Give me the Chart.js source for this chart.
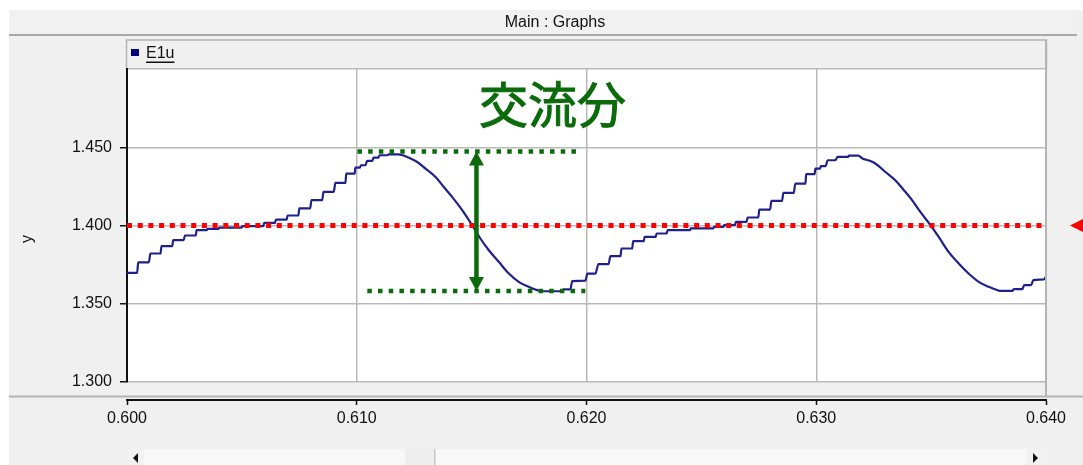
<!DOCTYPE html>
<html>
<head>
<meta charset="utf-8">
<title>Main : Graphs</title>
<script src="https://cdn.jsdelivr.net/npm/chart.js@4.4.1/dist/chart.umd.min.js"></script>
<style>
  html, body { margin: 0; padding: 0; background: #ffffff; overflow: hidden; }
  canvas { display: block; }
</style>
</head>
<body>
<canvas id="graph" width="1083" height="465"></canvas>
<script>
// Time axis [s] of the recorded E1u channel
const timeValues = [
  0.60000, 0.60044, 0.60049, 0.60095, 0.60102, 0.60146, 0.60150, 0.60197,
  0.60201, 0.60247, 0.60252, 0.60299, 0.60303, 0.60347, 0.60351, 0.60398,
  0.60402, 0.60499, 0.60503, 0.60593, 0.60597, 0.60644, 0.60648, 0.60695,
  0.60699, 0.60746, 0.60750, 0.60797, 0.60803, 0.60850, 0.60855, 0.60900,
  0.60907, 0.60951, 0.60954, 0.60991, 0.60994, 0.61014, 0.61018, 0.61038,
  0.61045, 0.61068, 0.61073, 0.61094, 0.61100, 0.61134, 0.61138, 0.61180,
  0.61200, 0.61225, 0.61263, 0.61299, 0.61343, 0.61379, 0.61415, 0.61459,
  0.61502, 0.61538, 0.61575, 0.61618, 0.61662, 0.61705, 0.61749, 0.61785,
  0.61810, 0.61895, 0.61899, 0.61930, 0.61938, 0.61995, 0.62004, 0.62039,
  0.62052, 0.62096, 0.62104, 0.62148, 0.62152, 0.62199, 0.62203, 0.62249,
  0.62253, 0.62301, 0.62305, 0.62349, 0.62353, 0.62450, 0.62454, 0.62552,
  0.62556, 0.62595, 0.62599, 0.62646, 0.62650, 0.62697, 0.62701, 0.62748,
  0.62752, 0.62799, 0.62805, 0.62851, 0.62857, 0.62902, 0.62909, 0.62953,
  0.62956, 0.62993, 0.62996, 0.63016, 0.63020, 0.63040, 0.63050, 0.63083,
  0.63093, 0.63138, 0.63142, 0.63183,
  0.63201, 0.63230, 0.63257, 0.63301, 0.63344, 0.63379, 0.63417, 0.63453,
  0.63497, 0.63533, 0.63576, 0.63620, 0.63663, 0.63707, 0.63751, 0.63790,
  0.63801, 0.63854, 0.63860, 0.63897, 0.63905, 0.63935, 0.63945, 0.63990,
  0.64000
];

// E1u voltage samples, same length as timeValues
const e1uValues = [
  1.3697, 1.3697, 1.3764, 1.3764, 1.3821, 1.3821, 1.3868, 1.3868,
  1.3906, 1.3906, 1.3936, 1.3936, 1.3970, 1.3970, 1.3978, 1.3978,
  1.3987, 1.3987, 1.3996, 1.3996, 1.4017, 1.4017, 1.4038, 1.4038,
  1.4064, 1.4064, 1.4109, 1.4109, 1.4162, 1.4162, 1.4215, 1.4215,
  1.4272, 1.4272, 1.4332, 1.4332, 1.4370, 1.4370, 1.4385, 1.4385,
  1.4413, 1.4413, 1.4434, 1.4434, 1.4449, 1.4449, 1.4455, 1.4455,
  1.4449, 1.4434, 1.4406, 1.4364, 1.4310, 1.4246, 1.4183, 1.4098,
  1.4002, 1.3917, 1.3842, 1.3768, 1.3693, 1.3640, 1.3608, 1.3587,
  1.3580, 1.3580, 1.3592, 1.3592, 1.3645, 1.3647, 1.3693, 1.3693,
  1.3753, 1.3753, 1.3804, 1.3804, 1.3853, 1.3853, 1.3900, 1.3900,
  1.3927, 1.3927, 1.3949, 1.3949, 1.3970, 1.3970, 1.3981, 1.3981,
  1.3991, 1.3991, 1.4002, 1.4002, 1.4023, 1.4023, 1.4051, 1.4051,
  1.4102, 1.4102, 1.4157, 1.4157, 1.4208, 1.4208, 1.4268, 1.4268,
  1.4328, 1.4328, 1.4363, 1.4363, 1.4379, 1.4379, 1.4417, 1.4417,
  1.4438, 1.4438, 1.4447, 1.4447,
  1.4428, 1.4415, 1.4396, 1.4342, 1.4289, 1.4230, 1.4162, 1.4087,
  1.4002, 1.3927, 1.3831, 1.3757, 1.3693, 1.3640, 1.3608, 1.3586,
  1.3582, 1.3582, 1.3594, 1.3594, 1.3619, 1.3619, 1.3651, 1.3655,
  1.3672
];

// Axis ticks
const xTickValues = [0.600, 0.610, 0.620, 0.630, 0.640];
const yTickValues = [1.300, 1.350, 1.400, 1.450];
const xRange = [0.600, 0.640];
const yRange = [1.300, 1.500];

// Guide lines: DC level and the peak-to-peak band of the AC part
const dcLevel = 1.400;
const acTop = 1.4473;
const acBottom = 1.3582;
const acTopSpan = [0.61003, 0.61955];
const acBottomSpan = [0.61046, 0.61995];
const acArrowX = 0.61521;
const acLabel = '交流分';
const acLabelAt = [0.61852, 1.4775];

const seriesName = 'E1u';
const windowTitle = 'Main : Graphs';
const yAxisTitle = 'y';

const FONT = '"Liberation Sans", Arial, sans-serif';
const GREEN = '#0b6b0b';
const GRID = '#b9b9b9';
const PANEL = '#f0f0f0';

const curvePoints = timeValues.map((t, i) => ({ x: t, y: e1uValues[i] }));

// Window chrome, legend, annotations
const chrome = {
  id: 'chrome',
  beforeDraw(chart) {
    const { ctx, chartArea: a, width: W, height: H } = chart;
    ctx.save();
    ctx.fillStyle = '#ffffff';
    ctx.fillRect(0, 0, W, H);
    ctx.fillStyle = PANEL;
    ctx.fillRect(9, 10, W - 9, H - 10);
    // title bar
    ctx.fillStyle = '#f1f1f1';
    ctx.fillRect(9, 10, 1068, 25);
    ctx.fillStyle = '#a8a8a8';
    ctx.fillRect(9, 34, 1068, 2);
    // legend strip
    ctx.fillStyle = PANEL;
    ctx.fillRect(a.left, 40, a.right - a.left, a.top - 40);
    ctx.strokeStyle = '#b4b4b4';
    ctx.lineWidth = 1.5;
    ctx.strokeRect(a.left - 0.5, 40, a.right - a.left + 1, a.top - 40);
    // plot background
    ctx.fillStyle = '#ffffff';
    ctx.fillRect(a.left, a.top, a.right - a.left, a.bottom - a.top);
    ctx.restore();
  },
  afterDraw(chart) {
    const { ctx, chartArea: a, width: W, height: H } = chart;
    const xs = chart.scales.x, ys = chart.scales.y;
    ctx.save();

    // window title
    ctx.fillStyle = '#111111';
    ctx.font = '16px ' + FONT;
    ctx.textAlign = 'center';
    ctx.textBaseline = 'middle';
    ctx.fillText(windowTitle, 555, 23);

    // legend entry
    ctx.fillStyle = '#000080';
    ctx.fillRect(131, 49, 8, 7);
    ctx.fillStyle = '#111111';
    ctx.textAlign = 'left';
    ctx.fillText(seriesName, 146, 54);
    const tw = ctx.measureText(seriesName).width;
    ctx.fillRect(146, 61.5, tw, 1.5);

    // y axis title
    ctx.save();
    ctx.translate(28, 239);
    ctx.rotate(-Math.PI / 2);
    ctx.textAlign = 'center';
    ctx.fillText(yAxisTitle, 0, 0);
    ctx.restore();

    // right frame edge and separator above the time axis
    ctx.fillStyle = '#b4b4b4';
    ctx.fillRect(a.right - 1, 40, 2, 357 - 1);
    ctx.fillRect(9, 395.5, W - 9, 2);

    // scroll bar
    const sy = 449;
    ctx.fillStyle = '#f8f8f8';
    ctx.fillRect(a.left, sy, a.right - a.left, H - sy);
    ctx.fillStyle = '#eeeeee';
    ctx.fillRect(405, sy, 30, H - sy);
    ctx.fillStyle = '#c6c6c6';
    ctx.fillRect(434, sy, 1.5, H - sy);
    ctx.fillStyle = '#f2f2f2';
    ctx.fillRect(a.left, sy, 17, H - sy);
    ctx.fillRect(1026, sy, 20, H - sy);
    ctx.fillStyle = '#111111';
    ctx.beginPath();
    ctx.moveTo(133, 458); ctx.lineTo(138, 453); ctx.lineTo(138, 463); ctx.closePath();
    ctx.fill();
    ctx.beginPath();
    ctx.moveTo(1038, 458); ctx.lineTo(1033, 453); ctx.lineTo(1033, 463); ctx.closePath();
    ctx.fill();

    // DC level marker at the right margin
    const yd = ys.getPixelForValue(dcLevel);
    ctx.fillStyle = '#ff0000';
    ctx.beginPath();
    ctx.moveTo(1070, yd); ctx.lineTo(1094, yd - 12); ctx.lineTo(1094, yd + 12); ctx.closePath();
    ctx.fill();

    // peak-to-peak arrow
    const ax = xs.getPixelForValue(acArrowX);
    const yt = ys.getPixelForValue(acTop);
    const yb = ys.getPixelForValue(acBottom);
    const headL = 14, headW = 7.5;
    ctx.fillStyle = GREEN;
    ctx.fillRect(ax - 2.25, yt + headL - 1, 4.5, (yb - yt) - 2 * headL + 2);
    ctx.beginPath();
    ctx.moveTo(ax, yt); ctx.lineTo(ax + headW, yt + headL); ctx.lineTo(ax - headW, yt + headL); ctx.closePath();
    ctx.fill();
    ctx.beginPath();
    ctx.moveTo(ax, yb); ctx.lineTo(ax + headW, yb - headL); ctx.lineTo(ax - headW, yb - headL); ctx.closePath();
    ctx.fill();

    // AC component label
    const lx = xs.getPixelForValue(acLabelAt[0]);
    const ly = ys.getPixelForValue(acLabelAt[1]);
    ctx.font = '400 49px "Noto Sans CJK JP", "Noto Sans CJK SC", sans-serif';
    ctx.textAlign = 'center';
    ctx.textBaseline = 'middle';
    ctx.fillText(acLabel, lx, ly);
    ctx.strokeStyle = GREEN;
    ctx.lineWidth = 1;
    ctx.strokeText(acLabel, lx, ly);

    ctx.restore();
  }
};

const dotted = (color, width, dash) => ({
  borderColor: color,
  borderWidth: width,
  borderDash: dash,
  borderCapStyle: 'butt',
  pointRadius: 0,
  fill: false,
  order: 0
});

new Chart(document.getElementById('graph'), {
  type: 'line',
  data: {
    datasets: [
      Object.assign({
        label: 'DC',
        data: [{ x: xRange[0], y: dcLevel }, { x: xRange[1], y: dcLevel }]
      }, dotted('#ff0000', 5, [5, 5.7])),
      Object.assign({
        label: 'AC max',
        data: [{ x: acTopSpan[0], y: acTop }, { x: acTopSpan[1], y: acTop }]
      }, dotted(GREEN, 4.5, [4.5, 6.2])),
      Object.assign({
        label: 'AC min',
        data: [{ x: acBottomSpan[0], y: acBottom }, { x: acBottomSpan[1], y: acBottom }]
      }, dotted(GREEN, 4.5, [4.5, 6.2])),
      {
        label: seriesName,
        data: curvePoints,
        borderColor: '#20208c',
        borderWidth: 2.2,
        pointRadius: 0,
        cubicInterpolationMode: 'monotone',
        fill: false,
        order: 10
      }
    ]
  },
  options: {
    responsive: false,
    animation: false,
    devicePixelRatio: 1,
    layout: { padding: { left: 0, right: 37, top: 69, bottom: 35 } },
    plugins: {
      legend: { display: false },
      tooltip: { enabled: false },
      title: { display: false }
    },
    scales: {
      x: {
        type: 'linear',
        position: 'bottom',
        min: xRange[0], max: xRange[1],
        weight: 0,
        afterBuildTicks: s => { s.ticks = xTickValues.map(v => ({ value: v })); },
        afterFit: s => { s.height = 18; },
        ticks: { display: false },
        grid: { color: GRID, lineWidth: 1.5, drawTicks: false },
        border: { display: false }
      },
      xb: {
        type: 'linear',
        position: 'bottom',
        min: xRange[0], max: xRange[1],
        weight: 1,
        afterBuildTicks: s => { s.ticks = xTickValues.map(v => ({ value: v })); },
        afterFit: s => { s.height = 30; },
        ticks: {
          color: '#111111',
          font: { family: FONT, size: 16 },
          padding: 4,
          maxRotation: 0,
          callback: v => Number(v).toFixed(3)
        },
        grid: { drawOnChartArea: false, tickLength: 5, tickColor: '#111111', tickWidth: 1.5 },
        border: { display: true, color: '#111111', width: 2 }
      },
      y: {
        type: 'linear',
        position: 'left',
        min: yRange[0], max: yRange[1],
        afterBuildTicks: s => { s.ticks = yTickValues.concat([yRange[1]]).map(v => ({ value: v })); },
        afterFit: s => { s.width = 127; },
        ticks: {
          color: '#111111',
          font: { family: FONT, size: 16 },
          padding: 8,
          callback: v => (v >= yRange[1] - 1e-9 ? '' : Number(v).toFixed(3))
        },
        grid: {
          color: GRID,
          lineWidth: 1.5,
          tickLength: 7,
          tickWidth: 1.5,
          tickColor: c => (c.tick && c.tick.value >= yRange[1] - 1e-9 ? 'rgba(0,0,0,0)' : '#111111')
        },
        border: { display: true, color: '#111111', width: 2 }
      }
    }
  },
  plugins: [chrome]
});
</script>
</body>
</html>
